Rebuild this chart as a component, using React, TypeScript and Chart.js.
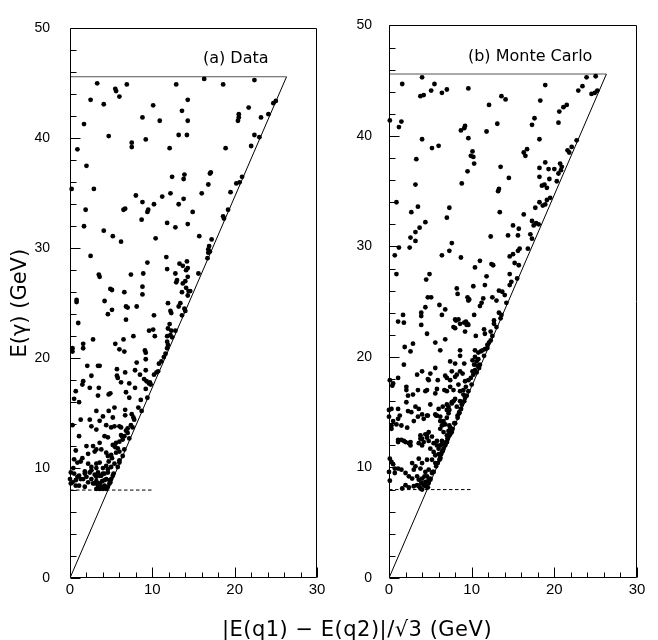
import React, { useEffect, useRef } from 'react';
import { Chart, registerables } from 'chart.js';

Chart.register(...registerables);

// ---- axis ticks ----
const xTicks = [0, 10, 20, 30];
const yTicks = [0, 10, 20, 30, 40, 50];
const xMinorTicks = [0, 2, 4, 6, 8, 10, 12, 14, 16, 18, 20, 22, 24, 26, 28, 30];
const yMinorTicks = [0, 2, 4, 6, 8, 10, 12, 14, 16, 18, 20, 22, 24, 26, 28, 30, 32, 34, 36, 38, 40, 42, 44, 46, 48, 50];

// ---- reference lines ----
const boundaryX = [0, 26.3];
const boundaryY = [0, 45.6];
const beamX = [0, 26.3];
const beamY = [45.6, 45.6];
const cutX = [0, 10];
const cutY = [8, 8];

// ---- panel labels ----
const panelLabels = ['(a) Data', '(b) Monte Carlo'];
const xTitle = '|E(q1) \u2212 E(q2)|/\u221A3 (GeV)';
const yTitle = 'E(\u03B3) (GeV)';

// ---- (a) Data points [x, y] ----
const dataPoints: [number, number][] = [
  [3.3,45.0],[5.5,44.5],[5.6,44.3],[6.9,44.9],[12.9,44.9],[16.3,45.4],[18.6,44.9],[22.4,45.3],
  [2.5,43.5],[4.1,43.1],[6.0,43.8],[10.1,43.0],[14.3,43.5],[13.6,42.5],[21.7,42.8],[25.0,43.4],[24.7,43.2],
  [1.7,41.3],[8.8,41.9],[10.9,41.6],[14.3,41.6],[20.5,42.2],[20.5,41.9],[20.4,41.6],[23.2,41.9],[24.1,42.2],
  [4.7,40.2],[7.5,39.6],[7.5,39.2],[9.2,39.9],[12.1,39.1],[13.2,40.3],[14.2,40.3],[18.9,39.1],[22.0,39.3],[22.4,40.3],[23.0,40.1],
  [0.9,39.0],[2.0,37.5],[0.2,35.4],[2.9,35.4],[12.4,36.5],[13.9,36.7],[13.8,36.3],[17.1,36.9],[17.0,36.8],[16.8,35.8],[20.2,35.9],[20.6,36.0],[20.9,36.5],
  [8.0,34.8],[8.8,34.2],[10.2,34.0],[11.2,34.7],[12.2,35.0],[13.8,34.5],[13.2,34.0],[16.0,35.0],[19.5,35.1],
  [1.9,33.5],[6.7,33.6],[6.5,33.5],[9.5,33.5],[9.4,33.3],[14.9,33.3],[18.6,32.9],[18.7,32.7],[19.2,33.5],
  [8.7,32.6],[11.8,32.3],[12.8,31.9],[14.3,32.2],[1.7,32.0],[4.1,31.6],[5.2,31.1],[6.2,30.6],[10.4,30.9],[15.7,31.1],[17.2,30.8],
  [16.9,30.2],[16.8,29.9],[16.8,29.6],[17.0,29.7],
  [2.5,29.3],[11.7,29.2],[16.7,29.1],[9.4,28.7],[13.3,28.6],[13.7,28.4],[14.2,28.8],[14.3,28.2],[14.1,28.0],[11.8,28.1],
  [3.5,27.6],[3.6,27.4],[7.4,27.6],[8.9,27.7],[12.8,27.7],[13.0,27.1],[12.9,26.9],[15.6,27.7],[14.0,27.0],[14.3,27.4],[13.7,26.8],
  [4.9,26.3],[5.1,26.2],[6.6,26.0],[8.8,26.5],[14.1,26.4],[8.8,25.8],[13.6,26.0],[14.4,26.1],[14.6,26.1],[14.3,25.7],
  [0.8,25.3],[0.8,25.1],[4.2,25.2],[11.9,25.0],[13.4,25.0],[13.2,24.7],[6.8,24.7],[7.0,24.6],[8.1,24.7],[5.1,24.4],[13.9,24.5],[14.0,24.3],
  [4.6,24.0],[10.2,23.9],[12.2,24.3],[12.3,24.1],[13.6,23.9],[6.8,23.5],[12.1,23.1],[1.0,23.2],
  [9.6,22.5],[10.1,22.6],[7.7,22.0],[11.9,22.7],[12.3,22.5],[11.8,22.0],[12.2,22.1],[10.3,22.0],[12.8,22.5],
  [2.8,21.7],[6.5,21.7],[5.5,21.3],[6.0,20.8],[6.6,20.6],[9.1,20.7],[9.2,20.5],[1.6,21.3],[1.6,20.9],[0.3,20.9],[0.3,20.6],
  [11.9,21.2],[11.8,20.9],[11.6,20.4],[11.4,20.1],[11.1,19.7],[9.2,19.9],[8.1,19.6],[2.1,19.3],[3.4,19.3],[3.6,19.3],[5.7,19.0],
  [2.6,18.4],[5.7,18.4],[5.8,18.2],[6.7,18.7],[7.9,18.9],[9.2,18.9],[8.5,18.5],[10.5,18.7],[10.7,18.8],
  [9.0,18.1],[9.3,17.9],[9.6,17.7],[9.8,17.6],[6.2,17.8],[7.2,17.7],[1.6,17.9],[1.5,17.6],[0.7,17.0],[2.4,17.3],[3.5,17.3],
  [4.7,16.7],[4.9,16.8],[6.8,16.9],[7.9,17.3],[9.2,17.2],[3.4,16.6],[7.2,16.4],[9.4,16.4],
  [0.5,16.3],[1.1,16.0],[3.2,15.2],[4.7,15.2],[5.4,15.5],[6.7,15.3],[8.7,15.2],[4.0,14.7],[5.2,14.6],[6.7,14.8],[7.5,14.9],[7.8,14.4],
  [1.3,14.4],[2.4,14.4],[0.3,13.9],[3.6,14.3],[2.6,13.8],[4.4,13.9],[5.0,13.7],[5.4,13.8],[6.0,13.8],[6.2,13.7],[7.4,13.9],[7.6,13.7],
  [3.2,13.5],[1.1,12.9],[4.2,12.9],[4.6,12.8],[6.2,13.0],[6.6,12.9],[7.0,13.2],[6.8,13.4],[7.2,12.7],[6.4,12.6],[6.0,12.4],
  [2.8,12.0],[2.0,12.0],[3.6,12.3],[3.8,11.7],[5.2,12.1],[5.6,12.3],[5.8,11.8],[0.7,11.6],
  [2.2,11.3],[3.0,11.5],[3.2,11.7],[4.4,11.4],[4.6,11.1],[5.0,11.2],[5.6,11.4],[6.0,11.5],[6.4,11.1],[6.6,11.7],
  [0.5,10.8],[0.9,10.5],[1.3,10.6],[1.5,10.9],[2.2,10.4],[2.6,10.1],[3.2,10.4],[3.6,10.5],[4.0,10.0],[4.4,10.2],[5.0,10.1],[5.4,10.4],[6.0,10.5],[5.8,10.1],[6.0,10.7],
  [0.1,9.6],[0.5,9.5],[1.1,9.3],[1.8,9.5],[2.4,9.6],[1.6,9.0],[2.0,9.2],[2.6,9.0],[3.2,9.2],[3.6,9.3],[0.7,8.9],[0.3,8.7],[0.0,9.0],
  [4.0,9.5],[4.6,9.6],[5.2,9.3],[5.3,9.5],[4.8,8.9],[4.9,8.7],[4.4,9.0],
  [3.0,8.6],[3.4,8.4],[3.8,8.3],[4.2,8.4],[4.6,8.3],[3.2,8.1],[3.6,8.1],[4.4,8.1],[4.0,8.1],
  [1.1,8.4],[1.8,8.3],[0.7,8.4],[0.1,8.6],[4.8,8.6],[5.0,9.0],
  [2.8,8.6],[3.2,8.8],[3.6,8.6],[3.9,8.8],[4.2,8.9],[3.0,9.4],[3.4,9.6],[3.8,9.3],[4.2,9.5],[2.6,9.8],[3.2,10.0],[4.6,9.9],
  [1.3,9.0],[0.9,9.2],[2.2,8.7],[1.8,9.7],[0.4,10.0],[4.7,10.6],[5.1,10.9],[5.5,11.9],[6.3,12.9],[7.0,13.6],[7.7,14.6],
  [8.3,15.5],[8.6,16.2],[9.7,17.8],[10.2,18.5],[10.8,19.5],[11.8,21.5],[12.4,21.9],
];

// ---- (b) Monte Carlo points [x, y] ----
const mcPoints: [number, number][] = [
  [4.0,45.3],[1.6,44.7],[3.8,43.6],[4.2,43.7],[5.1,44.1],[5.5,44.7],[6.4,43.9],[7.0,44.2],[9.6,44.3],[12.1,42.8],[13.6,43.6],[14.1,43.3],[18.9,44.6],[18.3,43.2],[22.9,44.1],[23.4,44.5],[23.9,45.3],[25.0,45.4],[24.5,43.8],[24.9,43.9],[25.2,44.1],
  [0.1,41.4],[1.2,40.8],[1.5,41.3],[13.1,41.1],[8.7,40.5],[9.1,40.7],[9.2,40.9],[11.8,40.4],[17.3,41.0],[17.6,41.6],[20.5,41.2],[20.6,42.2],[21.1,42.6],[21.5,42.8],
  [4.0,39.7],[5.2,38.9],[6.0,39.1],[9.6,39.8],[18.2,39.7],[22.7,39.6],[21.6,38.7],[22.1,39.0],[21.8,38.5],
  [3.3,37.9],[10.1,38.6],[9.9,38.2],[10.2,38.1],[10.3,37.5],[16.3,38.5],[16.5,38.2],[16.7,38.8],[13.5,37.2],[9.5,36.8],[14.5,36.2],[18.2,37.1],[18.2,36.3],[18.9,37.6],[19.3,37.0],[20.0,37.0],[20.7,37.5],[20.9,37.2],[20.8,36.9],[20.5,36.6],
  [19.4,36.1],[20.3,35.9],[19.1,35.3],[18.5,35.5],[18.8,35.6],[3.2,35.6],[8.8,35.7],[13.3,35.2],[13.2,35.0],
  [0.9,34.0],[3.5,33.6],[2.7,33.1],[7.3,33.5],[7.0,32.6],[13.4,33.1],[16.3,32.9],[17.7,33.5],[18.2,34.0],[18.6,33.7],[19.1,34.2],[19.5,34.4],[18.9,33.8],
  [17.3,32.3],[17.5,31.9],[17.8,32.1],[18.1,32.0],[4.4,32.2],[3.7,31.7],[3.2,31.3],[2.6,30.8],[3.2,30.5],[2.5,29.9],[7.6,30.3],[7.3,29.6],[0.7,29.2],[1.2,29.9],[6.4,29.2],[8.7,29.0],
  [12.3,30.9],[14.4,31.0],[15.0,31.9],[15.7,31.6],[15.6,31.0],[17.1,31.1],[17.3,30.7],[16.8,29.8],[15.8,29.8],[15.6,29.6],[14.6,29.1],[15.0,29.3],[15.2,28.5],[15.7,28.3],[12.4,28.4],[12.6,28.3],[11.0,28.7],[10.4,28.1],
  [0.9,27.5],[4.9,27.5],[4.5,27.0],[14.6,27.5],[11.8,27.3],[14.8,26.8],[14.6,26.5],[15.5,27.1],[8.2,26.2],[8.3,25.7],[10.2,26.4],[11.6,26.5],[13.3,26.0],[13.7,25.9],[14.0,25.6],
  [4.7,25.4],[5.1,25.4],[4.4,24.5],[6.1,24.7],[6.8,24.3],[9.5,25.4],[9.7,25.2],[9.6,25.1],[11.4,25.3],[11.2,24.9],[11.0,24.6],[12.5,25.4],[13.0,25.1],
  [3.9,24.0],[3.9,23.7],[1.7,23.8],[6.4,23.8],[8.1,23.3],[8.4,23.4],[9.3,23.2],[9.5,23.0],[9.4,22.9],[10.3,23.8],[12.7,23.3],[13.3,24.0],[13.5,23.5],[1.1,23.2],[1.8,23.1],
  [3.9,22.9],[4.6,22.1],[5.6,21.3],[6.8,21.6],[8.0,22.6],[8.6,23.0],[9.1,23.1],[9.6,22.9],[8.0,23.4],[7.8,22.7],[11.5,22.5],[11.6,22.1],[12.3,22.3],[12.7,23.0],[10.5,21.9],[9.2,22.3],
  [1.9,20.9],[2.9,21.2],[2.6,20.5],[6.2,20.6],[8.6,20.6],[8.6,20.1],[10.4,20.6],[10.8,20.4],[11.1,20.5],[11.3,20.6],[11.6,20.7],[10.4,20.0],[10.8,19.8],[11.9,21.1],[12.1,21.3],[12.3,21.5],[10.1,19.7],[10.6,19.6],[10.3,19.3],[10.7,19.2],
  [1.8,19.3],[7.4,19.6],[8.0,19.4],[9.1,19.4],
  [0.1,17.9],[0.5,17.6],[1.1,18.1],[0.4,17.4],[2.1,17.3],[3.4,18.4],[4.0,18.7],[5.0,18.5],[5.6,19.0],[4.7,18.0],[4.8,17.9],[5.9,17.9],[7.0,18.1],[7.4,17.9],[6.8,18.3],[7.6,18.7],[8.0,18.2],[8.2,18.4],[8.6,18.7],[8.9,18.5],[9.2,17.8],[9.3,17.3],[9.0,17.0],[8.4,17.5],[8.6,16.9],[10.1,18.7],[10.2,18.4],[10.4,18.8],[9.6,17.9],[9.9,18.1],
  [2.1,17.0],[3.5,17.0],[4.4,16.9],[4.6,17.0],[5.6,16.7],[5.8,17.1],[6.7,17.0],[7.0,16.9],[7.4,17.3],[7.8,17.0],[2.9,16.6],[2.3,16.5],
  [1.1,15.3],[2.1,15.9],[3.2,15.5],[3.6,15.3],[0.0,15.2],[0.0,14.6],[4.6,14.7],[4.7,14.7],[5.6,14.8],[5.8,14.7],[7.0,15.2],[7.0,15.7],[7.2,15.5],[7.6,15.8],[7.8,16.0],[8.2,15.5],[8.0,16.2],[8.6,16.0],[8.8,15.7],[9.2,16.3],[9.0,16.6],
  [0.3,13.8],[0.9,13.9],[1.5,13.8],[2.2,13.6],[3.0,14.2],[6.2,14.6],[6.6,14.2],[7.0,14.5],[7.2,14.9],[6.4,13.8],[6.8,13.9],[7.2,13.3],[7.4,13.6],[7.3,12.9],[7.1,12.6],[7.5,13.2],
  [4.4,13.0],[4.6,12.7],[4.8,13.2],[5.2,12.8],[5.8,12.4],[6.2,12.0],[6.4,12.4],[6.8,12.1],[7.0,12.3],[6.8,12.0],[1.1,12.3],[1.8,12.4],[2.4,12.2],[2.6,12.0],[3.8,12.6],[4.2,12.3],[4.0,12.0],
  [0.1,10.8],[0.3,10.5],[0.5,10.3],[0.7,9.9],[1.1,9.9],[1.5,9.8],[3.6,10.8],[4.0,10.4],[4.6,10.7],[5.0,11.7],[5.4,11.4],[5.6,11.1],[6.0,11.2],[6.4,11.4],[6.6,11.7],[5.2,10.7],[5.6,10.4],[6.2,10.8],[5.9,10.4],[6.2,10.9],
  [2.8,10.4],[3.2,10.1],[3.0,9.8],[3.8,9.9],[4.4,9.6],[4.8,9.8],[5.2,9.5],[5.4,9.6],
  [2.0,9.5],[2.4,9.2],[2.8,9.0],[3.4,9.2],[3.6,8.9],[4.0,9.0],[4.4,8.7],[4.6,9.2],[4.8,8.9],[4.2,8.4],
  [3.0,8.3],[3.4,8.4],[3.8,8.1],[4.4,8.3],[4.0,8.0],[3.6,8.3],[1.6,8.1],[2.0,8.4],[2.4,8.2],[5.0,9.0],[4.8,8.6],[0.1,8.8],[0.0,9.6],[0.7,9.5],
  [0.3,15.3],[0.5,14.2],[1.1,14.4],[0.3,13.5],[1.3,14.7],[2.3,15.1],[2.7,15.0],[3.5,14.6],[4.2,14.4],[4.0,14.8],[5.0,15.7],[6.0,15.3],[6.5,15.5],[5.7,14.7],[7.3,15.2],[7.6,15.9],
  [6.2,14.2],[6.6,13.9],[6.2,13.5],[6.6,13.2],[7.0,12.9],[7.3,13.8],[1.1,12.5],[1.5,12.5],[2.0,12.3],[2.6,12.3],[3.6,12.2],[3.8,12.9],[4.0,12.6],[4.6,13.0],[4.8,12.4],[5.4,12.2],
  [5.8,12.0],[6.0,11.7],[6.4,12.1],[7.6,13.2],[7.2,12.8],[7.7,13.5],[7.0,12.3],[7.4,13.0],[8.0,14.0],[8.3,14.5],[8.5,14.9],[8.7,15.3],
  [5.0,8.9],[4.7,8.2],[5.3,9.6],[5.7,10.1],[6.1,10.7],[6.5,11.5],[6.9,12.3],[7.4,13.1],[7.9,14.0],[8.3,14.7],[8.7,15.3],[9.1,16.0],[9.6,16.9],[10.0,17.5],[10.6,18.6],
  [11.0,19.3],[11.5,20.1],[11.9,20.8],[12.5,21.9],[13.0,22.7],[13.6,23.8],[14.2,24.9],[10.9,19.0],[9.4,16.5],[8.5,15.0],[7.1,12.6],[6.3,11.2],[4.5,8.4],[3.9,8.6],[4.3,9.2],
];

const toXY = (xs: number[], ys: number[]) => xs.map((x, i) => ({ x, y: ys[i] }));

type PanelProps = {
  points: [number, number][];
  label: string;
  labelX: number;
  labelY: number;
  left: number;
  width: number;
  yAxisWidth: number;
  yTickPad: number;
  padRight: number;
  showYTitle: boolean;
};

function Panel(p: PanelProps) {
  const ref = useRef<HTMLCanvasElement>(null);
  useEffect(() => {
    const canvas = ref.current;
    if (!canvas) return;
    const framePlugin = {
      id: 'frameTicks',
      afterDatasetsDraw(chart: any) {
        const { ctx, chartArea: a, scales } = chart;
        const xs = scales.x;
        const ys = scales.y;
        const L = Math.round(a.left) + 0.5;
        const R = Math.round(a.right) - 0.5;
        const T = Math.round(a.top) + 0.5;
        const B = Math.round(a.bottom) - 0.5;
        ctx.save();
        ctx.strokeStyle = '#000';
        ctx.lineWidth = 1;
        ctx.beginPath();
        ctx.rect(L, T, R - L, B - T);
        for (const v of xMinorTicks) {
          const px = Math.round(xs.getPixelForValue(v)) + 0.5;
          const len = xTicks.includes(v) ? 10 : 5;
          ctx.moveTo(px, B);
          ctx.lineTo(px, B - len);
        }
        for (const v of yMinorTicks) {
          const py = Math.round(ys.getPixelForValue(v)) + 0.5;
          const len = yTicks.includes(v) ? 10 : 6;
          ctx.moveTo(L, py);
          ctx.lineTo(L + len, py);
        }
        ctx.stroke();
        ctx.fillStyle = '#000';
        ctx.font = '16px "DejaVu Sans", sans-serif';
        ctx.textAlign = 'left';
        ctx.textBaseline = 'middle';
        ctx.fillText(p.label, xs.getPixelForValue(p.labelX), ys.getPixelForValue(p.labelY));
        ctx.restore();
      },
    };
    const chart = new Chart(canvas, {
      type: 'scatter',
      data: {
        datasets: [
          {
            data: p.points.map(([x, y]) => ({ x, y })),
            backgroundColor: '#000',
            borderColor: '#000',
            pointRadius: 2.4,
            pointBorderWidth: 0,
            clip: 4,
          } as any,
          {
            data: toXY(boundaryX, boundaryY),
            showLine: true,
            borderColor: '#000',
            borderWidth: 1,
            pointRadius: 0,
          },
          {
            data: toXY(beamX, beamY),
            showLine: true,
            borderColor: '#555',
            borderWidth: 1,
            pointRadius: 0,
          },
          {
            data: toXY(cutX, cutY),
            showLine: true,
            borderColor: '#000',
            borderWidth: 1,
            borderDash: [3.5, 2.5],
            pointRadius: 0,
          },
        ],
      },
      options: {
        animation: false,
        responsive: false,
        devicePixelRatio: 1,
        layout: { padding: { left: 0, right: p.padRight, top: 16, bottom: 32 } },
        plugins: { legend: { display: false }, tooltip: { enabled: false } },
        scales: {
          x: {
            type: 'linear',
            min: 0,
            max: 30,
            afterBuildTicks: (s: any) => { s.ticks = xTicks.map((v) => ({ value: v })); },
            afterFit: (s: any) => { s.height = 30; },
            grid: { display: false, drawTicks: false },
            border: { display: false },
            ticks: {
              padding: 3,
              color: '#000',
              autoSkip: false,
              maxRotation: 0,
              font: { family: '"Liberation Sans", Arial, sans-serif', size: 15 },
            },
          },
          y: {
            type: 'linear',
            min: 0,
            max: 50,
            afterBuildTicks: (s: any) => { s.ticks = yTicks.map((v) => ({ value: v })); },
            afterFit: (s: any) => { s.width = p.yAxisWidth; },
            grid: { display: false, drawTicks: false },
            border: { display: false },
            ticks: {
              padding: p.yTickPad,
              color: '#000',
              autoSkip: false,
              font: { family: '"Liberation Sans", Arial, sans-serif', size: 14 },
            },
            title: {
              display: p.showYTitle,
              text: yTitle,
              color: '#000',
              font: { family: '"DejaVu Sans", sans-serif', size: 21 },
              padding: { top: 8, bottom: 0 },
            },
          },
        },
      } as any,
      plugins: [framePlugin],
    });
    return () => chart.destroy();
  }, []);
  return (
    <canvas
      ref={ref}
      width={p.width}
      height={640}
      style={{ position: 'absolute', left: p.left, top: 0, width: p.width, height: 640 }}
    />
  );
}

export default function App() {
  return (
    <div style={{ position: 'absolute', left: 0, top: 0, width: 658, height: 640, background: '#fff', overflow: 'hidden' }}>
      <Panel points={dataPoints} label={panelLabels[0]} labelX={16.15} labelY={47.2}
        left={0} width={330} yAxisWidth={70} yTickPad={20} padRight={13} showYTitle={true} />
      <Panel points={mcPoints} label={panelLabels[1]} labelX={9.55} labelY={47.2}
        left={330} width={328} yAxisWidth={59} yTickPad={17} padRight={21} showYTitle={false} />
      <div style={{
        position: 'absolute', left: 157, width: 400, top: 617, textAlign: 'center',
        font: '21px "DejaVu Sans", sans-serif', letterSpacing: '0.5px', lineHeight: '24px', color: '#000',
        whiteSpace: 'nowrap',
      }}>{xTitle}</div>
    </div>
  );
}
